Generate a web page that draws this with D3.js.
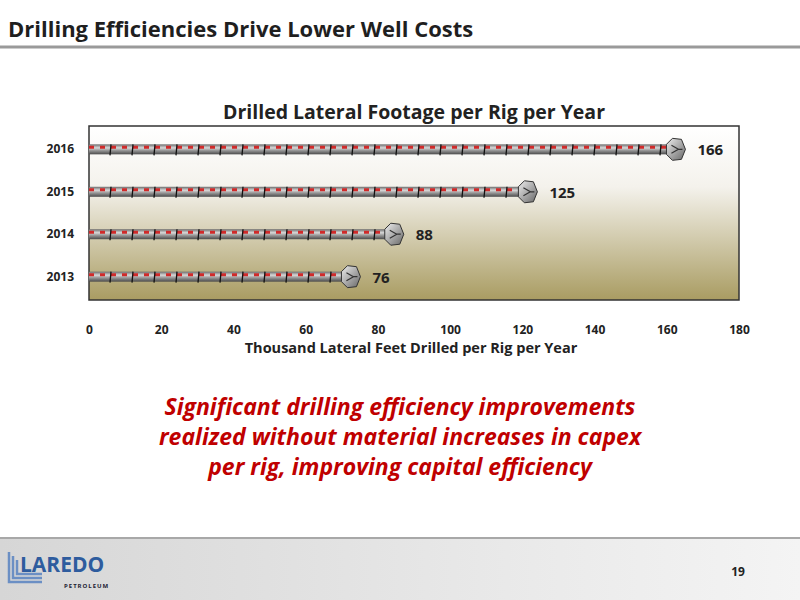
<!DOCTYPE html>
<html><head><meta charset="utf-8">
<script src="https://cdn.jsdelivr.net/npm/d3@7"></script>
<style>body{margin:0;background:#fff;font-family:Calibri,Carlito,"Open Sans",sans-serif}</style>
</head><body>
<svg id="c" width="800" height="600"></svg>
<script>
const years = ["2013","2014","2015","2016"];
const values = [76, 88, 125, 166];
const xTicks = [0,20,40,60,80,100,120,140,160,180];

const svg = d3.select("#c");
const F = "'Open Sans',sans-serif";
const defs = svg.append("defs");
const bg = defs.append("linearGradient").attr("id","bg").attr("x1",0).attr("y1",0).attr("x2",0).attr("y2",1);
bg.append("stop").attr("offset","0").attr("stop-color","#ffffff");
bg.append("stop").attr("offset","0.35").attr("stop-color","#f4f2ec");
bg.append("stop").attr("offset","1").attr("stop-color","#a99c62");
const pipe = defs.append("linearGradient").attr("id","pipe").attr("x1",0).attr("y1",0).attr("x2",0).attr("y2",1);
[["0","#6a6a6a"],["0.35","#d8d8d8"],["0.6","#9a9a9a"],["1","#4a4a4a"]].forEach(s=>pipe.append("stop").attr("offset",s[0]).attr("stop-color",s[1]));
const bit = defs.append("linearGradient").attr("id","bit").attr("x1",0).attr("y1",0).attr("x2",1).attr("y2",1);
bit.append("stop").attr("offset","0").attr("stop-color","#eeeeee");
bit.append("stop").attr("offset","1").attr("stop-color","#666");
const foot = defs.append("linearGradient").attr("id","foot").attr("x1",0).attr("y1",0).attr("x2",1).attr("y2",0);
foot.append("stop").attr("offset","0").attr("stop-color","#d6d6d6");
foot.append("stop").attr("offset","1").attr("stop-color","#f4f4f4");

// header
svg.append("text").attr("x",8).attr("y",37).attr("font-family",F).attr("font-weight","bold").attr("font-size",22).attr("fill","#1f1f1f").text("Drilling Efficiencies Drive Lower Well Costs");
svg.append("line").attr("x1",0).attr("x2",800).attr("y1",47).attr("y2",47).attr("stroke","#9a9a9a").attr("stroke-width",3);

const m = {l:89, r:739, t:126, b:300};
const x = d3.scaleLinear().domain([0,180]).range([m.l,m.r]);
const y = d3.scaleBand().domain(years.slice().reverse()).range([m.t,m.b]).paddingInner(0.1).paddingOuter(0.1);

svg.append("rect").attr("x",m.l).attr("y",m.t).attr("width",m.r-m.l).attr("height",m.b-m.t).attr("fill","url(#bg)").attr("stroke","#333").attr("stroke-width",1.5);
svg.append("text").attr("x",414).attr("y",119).attr("text-anchor","middle").attr("font-family",F).attr("font-weight","bold").attr("font-size",19.5).attr("fill","#222").text("Drilled Lateral Footage per Rig per Year");

const ax = svg.append("g").attr("transform",`translate(0,${m.b+25})`)
 .call(d3.axisBottom(x).tickValues(xTicks).tickSize(0).tickPadding(0));
ax.select(".domain").remove();
ax.selectAll("text").attr("font-family",F).attr("font-weight","bold").attr("font-size",12).attr("fill","#222");
svg.append("text").attr("x",411).attr("y",353).attr("text-anchor","middle").attr("font-family",F).attr("font-weight","bold").attr("font-size",14.5).attr("fill","#222").text("Thousand Lateral Feet Drilled per Rig per Year");

const ay = svg.append("g").attr("transform",`translate(${m.l-15},0)`).call(d3.axisLeft(y).tickSize(0).tickPadding(0));
ay.select(".domain").remove();
ay.selectAll("text").attr("font-family",F).attr("font-weight","bold").attr("font-size",12).attr("fill","#222");

const data = years.map((yr,i)=>({yr,v:values[i]}));
const g = svg.append("g").selectAll("g").data(data).join("g")
 .attr("transform",d=>`translate(0,${y(d.yr)+y.bandwidth()/2})`);
const E = d => x(d.v) - 6;
g.append("rect").attr("x",m.l).attr("y",-5).attr("width",d=>E(d)-m.l-14).attr("height",10).attr("fill","url(#pipe)");
g.append("line").attr("x1",m.l).attr("x2",d=>E(d)-16).attr("y1",-2).attr("y2",-2).attr("stroke","#d02a2a").attr("stroke-width",3).attr("stroke-dasharray","5 6");
g.each(function(d){
  const n = Math.floor((E(d)-m.l-20)/22);
  d3.select(this).selectAll("line.t").data(d3.range(1,n+1)).join("line").attr("class","t")
   .attr("x1",k=>m.l+k*22).attr("x2",k=>m.l+k*22-1).attr("y1",-5).attr("y2",6).attr("stroke","#111").attr("stroke-width",1.3);
});
g.append("path").attr("d",d=>{const e=E(d);return `M${e-16},-5 L${e-10},-11 L${e-1},-10 L${e+3},0 L${e-1},10 L${e-10},11 L${e-16},5 Z`;})
 .attr("fill","url(#bit)").attr("stroke","#333").attr("stroke-width",1);
g.append("path").attr("d",d=>{const e=E(d);return `M${e-11},-4 L${e-4},0 L${e-11},4 M${e-4},0 L${e},0`;}).attr("fill","none").attr("stroke","#333").attr("stroke-width",1.2);
g.append("text").attr("x",d=>x(d.v)+9).attr("y",6).attr("font-family",F).attr("font-weight","bold").attr("font-size",15).attr("fill","#222").text(d=>d.v);

const msg = ["Significant drilling efficiency improvements","realized without material increases in capex","per rig, improving capital efficiency"];
svg.append("g").selectAll("text").data(msg).join("text").attr("x",400).attr("y",(d,i)=>415+i*30).attr("text-anchor","middle")
 .attr("font-family",F).attr("font-style","italic").attr("font-weight","bold").attr("font-size",23).attr("fill","#c00000").text(d=>d);

// footer
svg.append("rect").attr("x",0).attr("y",538).attr("width",800).attr("height",62).attr("fill","url(#foot)");
svg.append("line").attr("x1",0).attr("x2",800).attr("y1",538).attr("y2",538).attr("stroke","#a8a8a8").attr("stroke-width",2);
svg.append("path").attr("d","M9,552 V582 H42 M13,556 V578 H42 M17,560 V574 H42").attr("fill","none").attr("stroke","#6b8fc4").attr("stroke-width",2.5);
svg.append("text").attr("x",20).attr("y",572).attr("font-family",F).attr("font-weight","bold").attr("font-size",21).attr("fill","#2e5c9e").text("LAREDO");
svg.append("text").attr("x",64).attr("y",588).attr("font-family",F).attr("font-weight","bold").attr("font-size",6).attr("letter-spacing",1).attr("fill","#223").text("PETROLEUM");
svg.append("text").attr("x",738).attr("y",576).attr("text-anchor","middle").attr("font-family",F).attr("font-weight","bold").attr("font-size",12).attr("fill","#222").text("19");
</script>
</body></html>
